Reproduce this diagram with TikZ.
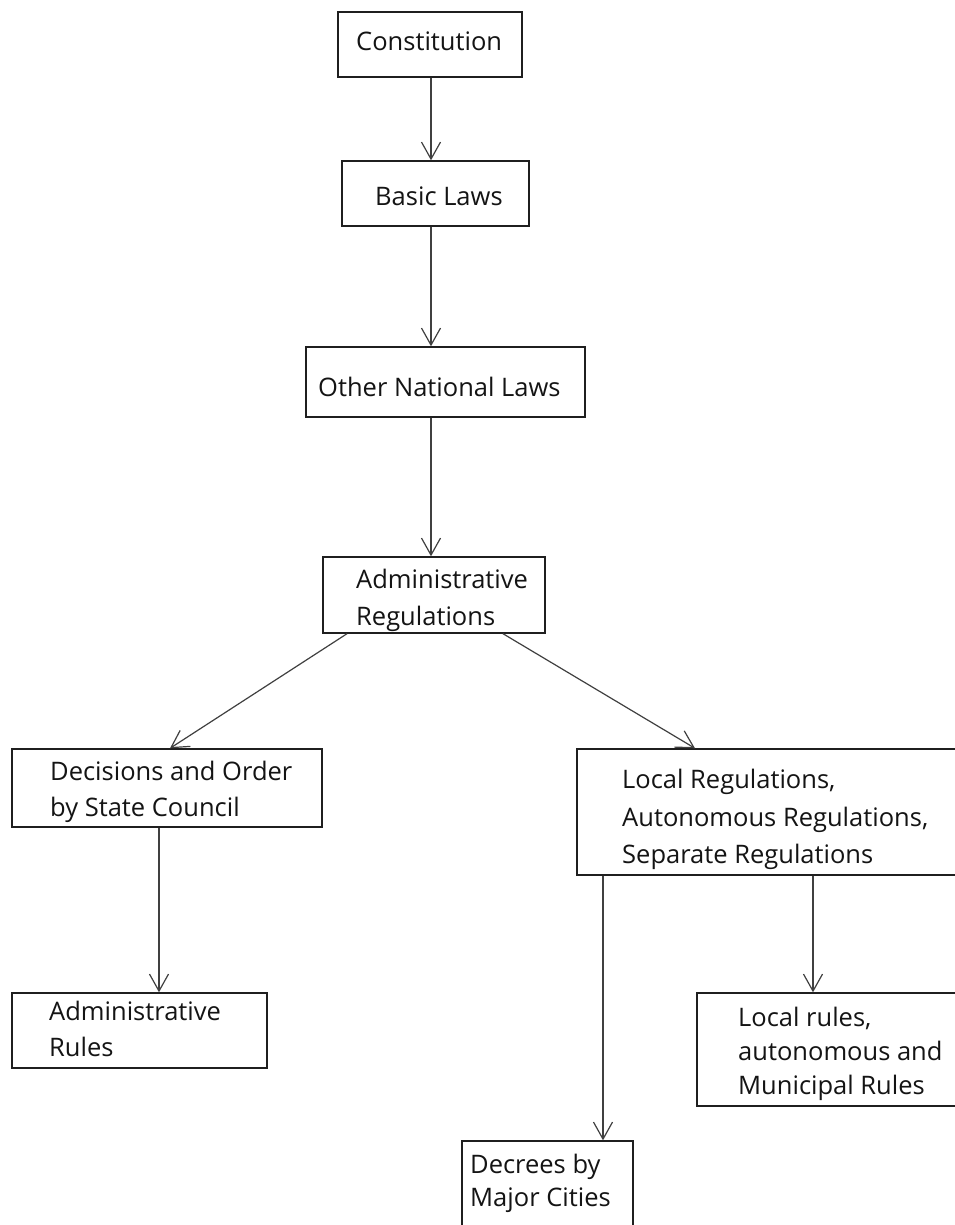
\documentclass[tikz,border=0pt]{standalone}
\usepackage{fontspec}
\setmainfont{Open Sans}
\usetikzlibrary{arrows.meta}
\begin{document}
\begin{tikzpicture}[x=1pt,y=-1pt,
  box/.style={draw=black!88,line width=1.4pt,rectangle,inner sep=0pt},
  txt/.style={anchor=north west,inner sep=0pt,align=left,text=black!92,
    font=\fontsize{25.5}{36}\selectfont},
  arr/.style={draw=black!75,line width=1.2pt,-{Straight Barb[length=17pt,width=19pt,line width=1.2pt]}}]
\useasboundingbox[fill=white] (0,0) rectangle (954,1225);
% boxes (x-left, x-right, y-top, y-bottom)
\node[box,minimum width=184pt,minimum height=65pt] (con) at (430,44.5) {};
\node[box,minimum width=187pt,minimum height=65pt] (bas) at (435.5,193.5) {};
\node[box,minimum width=279pt,minimum height=70pt] (oth) at (445.5,382) {};
\node[box,minimum width=222pt,minimum height=76pt] (adm) at (434,595) {};
\node[box,minimum width=310pt,minimum height=78pt] (dec) at (167,788) {};
\node[box,minimum width=255pt,minimum height=75pt] (arl) at (139.5,1030.5) {};
\node[box,minimum width=388pt,minimum height=126pt] (loc) at (771,812) {};
\node[box,minimum width=268pt,minimum height=113pt] (lru) at (831,1049.5) {};
\node[box,minimum width=171pt,minimum height=100pt] (dcr) at (547.5,1191) {};
% texts
\node[txt] (tcon) at (356,32) {Constitution};
\node[txt] (tbas) at (375,187) {Basic Laws};
\node[txt] (toth) at (318,377) {Other National Laws};
\node[txt,font=\fontsize{25.5}{37}\selectfont] (tadm) at (356,569) {Administrative\\Regulations};
\node[txt] (tdec) at (50,761) {Decisions and Order\\by State Council};
\node[txt] (tarl) at (49,1001) {Administrative\\Rules};
\node[txt,font=\fontsize{25.5}{37.5}\selectfont] (tloc) at (622,769) {Local Regulations,\\Autonomous Regulations,\\Separate Regulations};
\node[txt,font=\fontsize{25.5}{34}\selectfont] (tlru) at (738,1007) {Local rules,\\autonomous and\\Municipal Rules};
\node[txt,font=\fontsize{25.5}{33}\selectfont] (tdcr) at (470,1154) {Decrees by\\Major Cities};
% connectors
\draw[arr] (con.south -| 431,0) -- (bas.north -| 431,0);
\draw[arr] (bas.south -| 431,0) -- (oth.north -| 431,0);
\draw[arr] (oth.south -| 431,0) -- (adm.north -| 431,0);
\draw[arr] (adm.south -| 347,0) -- (dec.north -| 170,0);
\draw[arr] (adm.south -| 503,0) -- (loc.north -| 695,0);
\draw[arr] (dec.south -| 159,0) -- (arl.north -| 159,0);
\draw[arr] (loc.south -| 603,0) -- (dcr.north -| 603,0);
\draw[arr] (loc.south -| 813,0) -- (lru.north -| 813,0);
\end{tikzpicture}
\end{document}
